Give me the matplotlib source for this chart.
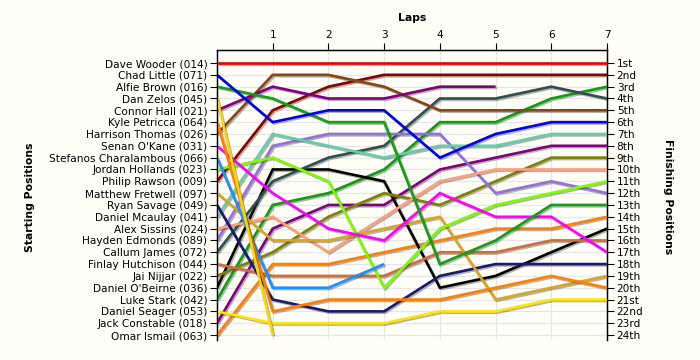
import matplotlib
matplotlib.use("Agg")
import matplotlib.pyplot as plt
import matplotlib.patheffects as pe
import numpy as np

plt.rcParams['font.family'] = ['DejaVu Sans']

laps = [0, 1, 2, 3, 4, 5, 6, 7]
lap_labels = ['1', '2', '3', '4', '5', '6', '7']

drivers = ["Dave Wooder (014)", "Chad Little (071)", "Alfie Brown (016)", "Dan Zelos (045)",
           "Connor Hall (021)", "Kyle Petricca (064)", "Harrison Thomas (026)", "Senan O'Kane (031)",
           "Stefanos Charalambous (066)", "Jordan Hollands (023)", "Philip Rawson (009)",
           "Matthew Fretwell (097)", "Ryan Savage (049)", "Daniel Mcaulay (041)", "Alex Sissins (024)",
           "Hayden Edmonds (089)", "Callum James (072)", "Finlay Hutchison (044)", "Jai Nijjar (022)",
           "Daniel O'Beirne (036)", "Luke Stark (042)", "Daniel Seager (053)", "Jack Constable (018)",
           "Omar Ismail (063)"]

finish_labels = ["1st", "2nd", "3rd", "4th", "5th", "6th", "7th", "8th", "9th", "10th", "11th", "12th",
                 "13th", "14th", "15th", "16th", "17th", "18th", "19th", "20th", "21st", "22nd", "23rd", "24th"]

N = None
pos_wooder    = [1, 1, 1, 1, 1, 1, 1, 1]
pos_little    = [2, 6, 5, 5, 9, 7, 6, 6]
pos_brown     = [3, 4, 6, 6, 18, 16, 13, 13]
pos_zelos     = [4, 24, N, N, N, N, N, N]
pos_hall      = [5, 3, 4, 4, 3, 3, N, N]
pos_petricca  = [6, 22, 21, 21, 21, 20, 19, 20]
pos_thomas    = [7, 2, 2, 3, 5, 5, 5, 5]
pos_okane     = [8, 12, 15, 16, 12, 14, 14, 17]
pos_stefanos  = [9, 20, 20, 18, N, N, N, N]
pos_hollands  = [10, 9, 11, 20, 15, 13, 12, 11]
pos_rawson    = [11, 5, 3, 2, 2, 2, 2, 2]
pos_fretwell  = [12, 16, 16, 15, 14, 21, 20, 19]
pos_savage    = [13, 21, 22, 22, 19, 18, 18, 18]
pos_mcaulay   = [14, 7, 8, 9, 8, 8, 7, 7]
pos_sissins   = [15, 14, 17, 14, 11, 10, 10, 10]
pos_edmonds   = [16, 8, 7, 7, 7, 12, 11, 12]
pos_james     = [17, 11, 9, 8, 4, 4, 3, 4]
pos_hutchison = [18, 19, 19, 19, 17, 17, 16, 16]
pos_nijjar    = [19, 17, 14, 12, 13, 11, 9, 9]
pos_obeirne   = [20, 10, 10, 11, 20, 19, 17, 15]
pos_stark     = [21, 13, 12, 10, 6, 6, 4, 3]
pos_seager    = [22, 23, 23, 23, 22, 22, 21, 21]
pos_constable = [23, 15, 13, 13, 10, 9, 8, 8]
pos_ismail    = [24, 18, 18, 17, 16, 15, 15, 14]

series = [pos_wooder, pos_little, pos_brown, pos_zelos, pos_hall, pos_petricca, pos_thomas,
          pos_okane, pos_stefanos, pos_hollands, pos_rawson, pos_fretwell, pos_savage,
          pos_mcaulay, pos_sissins, pos_edmonds, pos_james, pos_hutchison, pos_nijjar,
          pos_obeirne, pos_stark, pos_seager, pos_constable, pos_ismail]

colors = ['#EE0000', '#0000EE', '#14A014', '#FFD700', '#800080', '#FF8000', '#8B4513',
          '#FF00FF', '#1E90FF', '#7CFC00', '#8B0000', '#DAA520', '#191970', '#66CDAA',
          '#FFA07A', '#9370DB', '#2F4F4F', '#CD6F3A', '#808000', '#000000', '#0CA00C',
          '#FFE600', '#800080', '#FF8000']

bg = '#FFFFF8'
fig = plt.figure(figsize=(7, 3.6), dpi=100, facecolor=bg)
ax = fig.add_axes([217/700, 1-340/360, (607-217)/700, (340-50)/360])
ax.set_facecolor(bg)

ax.set_xlim(0, 7)
ax.set_ylim(24.42, -0.1)

# grid
for p in range(1, 25):
    ax.axhline(p, color='#E6E6E6', lw=0.9, zorder=0)
for l in laps:
    ax.axvline(l, color='#E6E6E6', lw=0.9, zorder=0)

effects = [pe.SimpleLineShadow(offset=(1.0, -1.0), shadow_color='#404040', alpha=0.4),
           pe.Normal()]
for s, c in zip(series[::-1], colors[::-1]):
    xs = [l for l, v in zip(laps, s) if v is not None]
    ys = [v for v in s if v is not None]
    ax.plot(xs, ys, color=c, lw=1.9, solid_capstyle='butt', solid_joinstyle='miter',
            path_effects=effects, zorder=3)

ax.spines['bottom'].set_visible(False)
for sp in ['left', 'right', 'top']:
    ax.spines[sp].set_linewidth(1.0)

ax.set_yticks(range(1, 25))
ax.set_yticklabels(drivers, fontsize=7.6, color='#000000')
ax.tick_params(axis='y', direction='out', length=5, width=0.8, pad=2)

ax.xaxis.tick_top()
ax.set_xticks(range(1, 8))
ax.set_xticklabels(lap_labels, fontsize=7.6)
ax.tick_params(axis='x', direction='out', length=5, width=0.8, pad=2, top=True, bottom=False)

ax2 = ax.twinx()
ax2.set_ylim(ax.get_ylim())
ax2.set_yticks(range(1, 25))
ax2.set_yticklabels(finish_labels, fontsize=7.6)
ax2.tick_params(axis='y', direction='out', length=5, width=0.8, pad=2)
ax2.spines['bottom'].set_visible(False)

fig.text(412/700, 1-18/360, 'Laps', ha='center', va='center', fontsize=7.8, fontweight='bold')
fig.text(30/700, 1-197/360, 'Starting Positions', ha='center', va='center', rotation=90,
         fontsize=7.8, fontweight='bold')
fig.text(668/700, 1-197/360, 'Finishing Positions', ha='center', va='center', rotation=-90,
         fontsize=7.8, fontweight='bold')

fig.savefig('out.png', dpi=100, facecolor=bg)
